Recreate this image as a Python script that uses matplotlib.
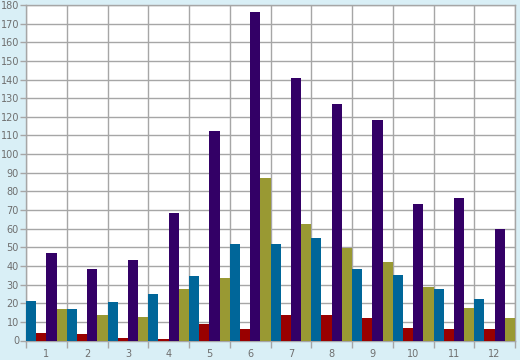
import matplotlib

matplotlib.use("Agg")
import matplotlib.pyplot as plt
import numpy as np

categories = ["1", "2", "3", "4", "5", "6", "7", "8", "9", "10", "11", "12"]
blue = [21, 16.7, 20.4, 25.2, 34.5, 52, 52, 54.8, 38.2, 35, 27.5, 22]
red = [4, 3.4, 1.2, 0.7, 8.7, 6, 13.5, 13.5, 11.9, 6.6, 6, 6]
purple = [47, 38.5, 43.2, 68.2, 112.6, 176, 141, 127, 118.5, 73, 76.2, 59.6]
olive = [16.7, 13.5, 12.4, 27.4, 33.4, 87, 62.3, 49.4, 41.9, 28.5, 17.3, 11.9]

series = [blue, red, purple, olive]
colors = ["#006699", "#990000", "#330066", "#999933"]

bg = "#d9eff6"
grid = "#a6a6a6"
text = "#6e6e6e"

fig = plt.figure(figsize=(5.2, 3.6), dpi=100, facecolor=bg)
ax = fig.add_axes([26 / 520, (360 - 340.5) / 360, 489 / 520, 335.5 / 360])
ax.set_facecolor("white")

x = np.arange(len(categories))
width = 0.25
for i, (vals, col) in enumerate(zip(series, colors)):
    ax.bar(x - 0.5 + width * (i + 0.5), vals, width=width, color=col,
           linewidth=0, zorder=3)

ax.set_xlim(-0.5, len(categories) - 0.5)
ax.set_ylim(0, 180)
ax.set_yticks(np.arange(0, 181, 10))
ax.set_xticks(x)
ax.set_xticklabels(categories)
ax.set_xticks(np.arange(-0.5, len(categories)), minor=True)

ax.grid(True, which="major", axis="y", color=grid, linewidth=1, zorder=0)
ax.grid(True, which="minor", axis="x", color=grid, linewidth=1, zorder=0)

ax.tick_params(axis="y", colors=grid, labelcolor=text, labelsize=7,
               length=4, width=1, pad=1)
ax.tick_params(axis="x", which="major", length=0, labelcolor=text,
               labelsize=7, pad=6)
ax.tick_params(axis="x", which="minor", length=5, width=1, colors=grid)

for side in ["left", "right", "top", "bottom"]:
    ax.spines[side].set_color(grid)
    ax.spines[side].set_linewidth(1)

fig.savefig("out.png", dpi=100, facecolor=bg)
plt.close(fig)
